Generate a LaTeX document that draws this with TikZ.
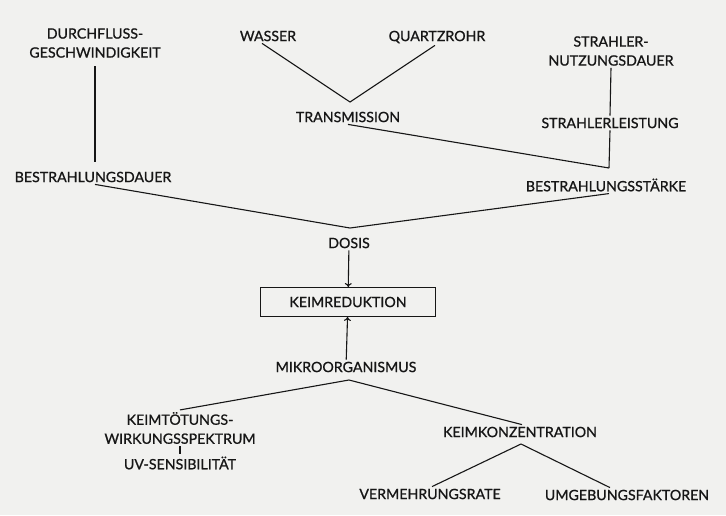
\documentclass[tikz,border=0pt]{standalone}
\usepackage{fontspec}
\usetikzlibrary{arrows.meta}
\newfontfamily\diafont{Lato}[FakeBold=0.9]
\definecolor{paper}{HTML}{F1F1EF}
\definecolor{ink}{HTML}{161616}
\begin{document}
\begin{tikzpicture}[
    x=1pt, y=-1pt,
    lbl/.style={text=ink,inner sep=2pt,align=center,
      font=\diafont\fontsize{14.2}{19}\selectfont},
    keimbox/.style={lbl,draw=ink,line width=0.9pt,
      minimum width=175pt,minimum height=29pt},
    conn/.style={draw=ink,line width=1.1pt},
    arr/.style={conn,-{To[length=4pt,width=7pt]}}]
 \fill[paper] (0,0) rectangle (726,515);
 \useasboundingbox (0,0) rectangle (726,515);
 \node[lbl] (durch) at (95,43) {DURCHFLUSS-\\GESCHWINDIGKEIT};
 \node[lbl] (wasser) at (268,36) {WASSER};
 \node[lbl] (quarz) at (437,37) {QUARTZROHR};
 \node[lbl] (nutz) at (611,51) {STRAHLER-\\NUTZUNGSDAUER};
 \node[lbl] (trans) at (348,117) {TRANSMISSION};
 \node[lbl] (leist) at (610,123) {STRAHLERLEISTUNG};
 \node[lbl] (bdauer) at (93,177) {BESTRAHLUNGSDAUER};
 \node[lbl] (staerke) at (606,185) {BESTRAHLUNGSSTÄRKE};
 \node[lbl] (dosis) at (349,243) {DOSIS};
 \node[keimbox] (keim) at (348,302) {KEIMREDUKTION};
 \node[lbl] (mikro) at (346,367) {MIKROORGANISMUS};
 \node[lbl] (kt) at (180,428) {KEIMTÖTUNGS-\\WIRKUNGSSPEKTRUM};
 \node[lbl] (kk) at (520,432) {KEIMKONZENTRATION};
 \node[lbl] (uv) at (180,463) {UV-SENSIBILITÄT};
 \node[lbl] (verm) at (430,494) {VERMEHRUNGSRATE};
 \node[lbl] (umg) at (627,495) {UMGEBUNGSFAKTOREN};
 \coordinate (jW) at (350,102);
 \coordinate (jL) at (609,168);
 \coordinate (jD) at (350,228);
 \coordinate (jM) at (349,380);
 \coordinate (jK) at (521,444);
 \draw[conn] (95,66) -- (95,162);
 \draw[conn] ([xshift=-6pt]wasser.south) -- (jW) -- ([xshift=-2pt]quarz.south);
 \draw[conn] (trans.south) -- (jL);
 \draw[conn] (nutz.south) -- (leist.north);
 \draw[conn] (leist.south) -- (jL);
 \draw[conn] ([xshift=2pt]bdauer.south) -- (jD) -- ([xshift=3pt]staerke.south);
 \draw[arr] (dosis) -- (keim);
 \draw[arr] (mikro) -- (keim);
 \draw[conn] (kt.north) -- (jM) -- ([xshift=2pt]kk.north);
 \draw[conn] (kt.south) -- (uv.north);
 \draw[conn] ([xshift=2pt]verm.north) -- (jK) -- ([xshift=-17pt]umg.north);
\end{tikzpicture}
\end{document}
